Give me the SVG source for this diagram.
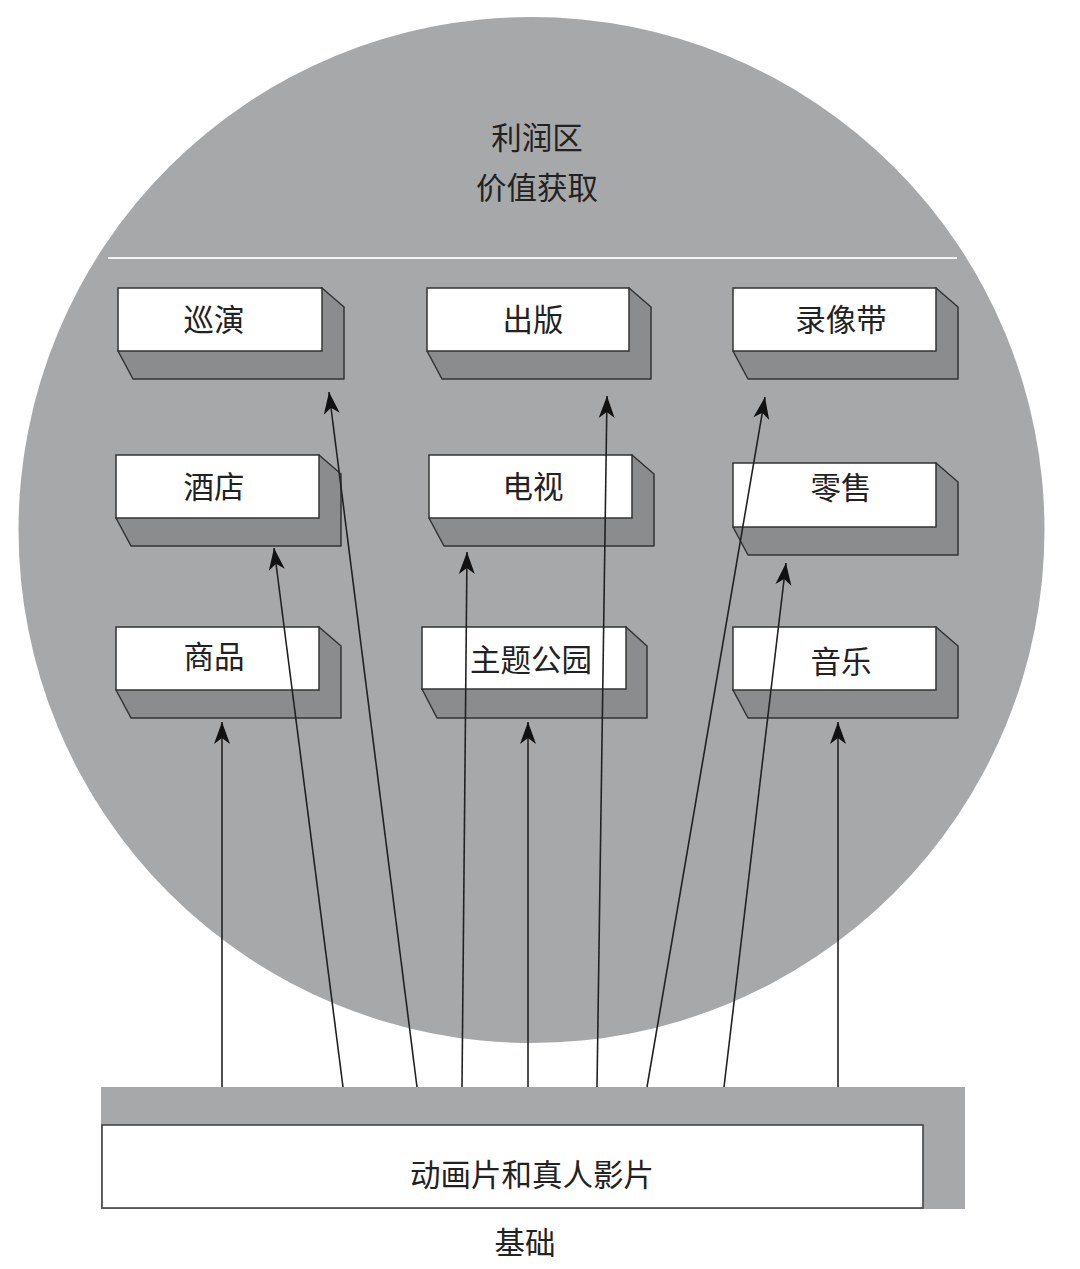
<svg xmlns="http://www.w3.org/2000/svg" width="1080" height="1269" viewBox="0 0 1080 1269">
<defs>
<style>
.t{font-family:"Liberation Serif","Noto Sans CJK SC",serif;font-size:30.5px;fill:#222;text-anchor:middle}
.front{fill:#fff;stroke:#333;stroke-width:1.5}
.shadow{fill:#8b8c8e;stroke:#333;stroke-width:1.5;stroke-linejoin:round}
.arr{stroke:#222;stroke-width:1.6;fill:none;marker-end:url(#ah)}
</style>
<marker id="ah" markerUnits="userSpaceOnUse" markerWidth="30" markerHeight="24" viewBox="-24 -12 26 24" refX="0" refY="0" orient="auto">
<path d="M0,0 L-22,-8 L-16,0 L-22,8 Z" fill="#111"/>
</marker>
</defs>
<rect width="1080" height="1269" fill="#fff"/>
<circle cx="531.5" cy="530" r="513" fill="#a7a8aa"/>
<line x1="108" y1="258" x2="957" y2="258" stroke="#f4f4f4" stroke-width="2"/>
<text class="t" x="537" y="149">利润区</text>
<text class="t" x="537" y="199">价值获取</text>

<g id="n-xunyan">
<path class="shadow" d="M118,351 L133,379 L344,379 L344,307 L322,288 Z"/>
<rect class="front" x="118" y="288" width="204" height="63"/>
<text class="t" x="214" y="331">巡演</text>
</g>
<g id="n-chuban">
<path class="shadow" d="M427,351 L442,379 L651,379 L651,307 L629,288 Z"/>
<rect class="front" x="427" y="288" width="202" height="63"/>
<text class="t" x="533" y="331">出版</text>
</g>
<g id="n-luxiangdai">
<path class="shadow" d="M733,351 L748,379 L958,379 L958,307 L936,288 Z"/>
<rect class="front" x="733" y="288" width="203" height="63"/>
<text class="t" x="841" y="331">录像带</text>
</g>
<g id="n-jiudian">
<path class="shadow" d="M116,518 L131,546 L341,546 L341,474 L319,455 Z"/>
<rect class="front" x="116" y="455" width="203" height="63"/>
<text class="t" x="214" y="498">酒店</text>
</g>
<g id="n-dianshi">
<path class="shadow" d="M429,518 L444,546 L654,546 L654,474 L632,455 Z"/>
<rect class="front" x="429" y="455" width="203" height="63"/>
<text class="t" x="533" y="498">电视</text>
</g>
<g id="n-lingshou">
<path class="shadow" d="M733,527 L748,555 L958,555 L958,482 L936,463 Z"/>
<rect class="front" x="733" y="463" width="203" height="64"/>
<text class="t" x="841" y="499">零售</text>
</g>
<g id="n-shangpin">
<path class="shadow" d="M116,690 L131,718 L341,718 L341,646 L319,627 Z"/>
<rect class="front" x="116" y="627" width="203" height="63"/>
<text class="t" x="214" y="668">商品</text>
</g>
<g id="n-zhutigongyuan">
<path class="shadow" d="M422,689 L437,718 L647,718 L647,646 L626,627 Z"/>
<rect class="front" x="422" y="627" width="204" height="62"/>
<text class="t" x="531" y="671">主题公园</text>
</g>
<g id="n-yinyue">
<path class="shadow" d="M733,690 L748,718 L958,718 L958,646 L936,627 Z"/>
<rect class="front" x="733" y="627" width="203" height="63"/>
<text class="t" x="841" y="673">音乐</text>
</g>

<g id="base">
<rect x="101" y="1087" width="864" height="122" fill="#a7a8aa"/>
<rect x="102" y="1125" width="821" height="83" fill="#fff" stroke="#444" stroke-width="1.6"/>
<text class="t" x="532" y="1186">动画片和真人影片</text>
</g>
<text class="t" x="525" y="1254">基础</text>

<g id="connectors">
<line class="arr" x1="222" y1="1087" x2="222" y2="722"/>
<line class="arr" x1="343" y1="1087" x2="274" y2="548"/>
<line class="arr" x1="417" y1="1087" x2="329" y2="392"/>
<line class="arr" x1="462" y1="1087" x2="467" y2="552"/>
<line class="arr" x1="528" y1="1087" x2="528" y2="722"/>
<line class="arr" x1="597" y1="1087" x2="607" y2="396"/>
<line class="arr" x1="647" y1="1087" x2="765" y2="397"/>
<line class="arr" x1="724" y1="1087" x2="786" y2="563"/>
<line class="arr" x1="838" y1="1087" x2="838" y2="722"/>
</g>
</svg>
